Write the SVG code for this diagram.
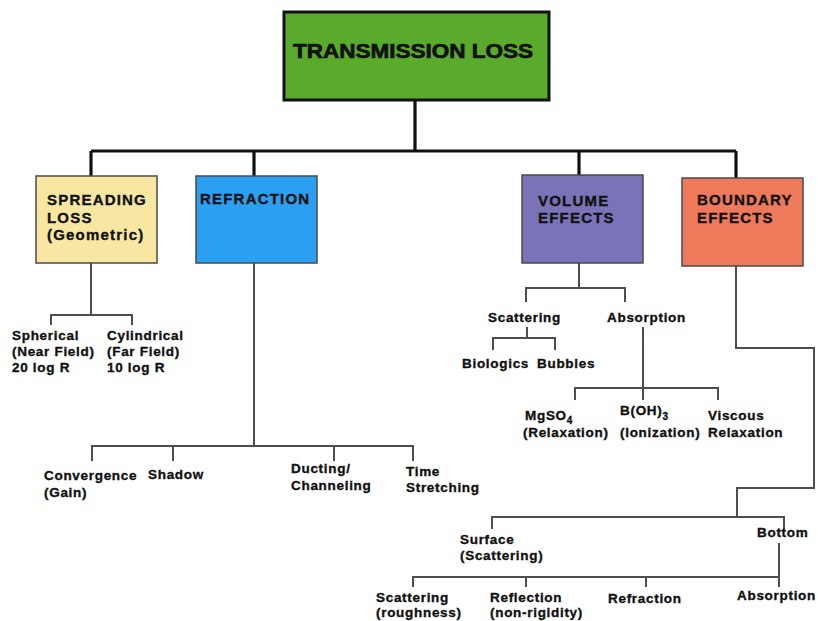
<svg xmlns="http://www.w3.org/2000/svg" width="818" height="621" viewBox="0 0 818 621">
  <style>
    .box { stroke: #4a4a4a; stroke-width: 1.5; }
    .main { fill: none; stroke: #111; stroke-width: 3.2; }
    .sub { fill: none; stroke: #4d4d4d; stroke-width: 2; }
    text { font-family: "Liberation Sans", Arial, sans-serif; font-weight: bold; fill: #111; stroke: #111; stroke-width: 0.35px; }
    .hd { font-size: 15px; letter-spacing: 1.2px; }
    .lb { font-size: 13.5px; letter-spacing: 0.7px; }
    .sb { font-size: 10px; }
    .title { stroke-width: 0.7px; }
  </style>
  <rect width="818" height="621" fill="#fff"/>

  <g id="connectors">
    <!-- main tree -->
    <path class="main" d="M415 100 V151 M91 151 H736 M91 151 V176 M254 151 V176 M579 151 V175 M736 151 V178"/>
    <!-- spreading loss -->
    <path class="sub" d="M91 263 V315 M51 325 V315 H132 V325"/>
    <!-- refraction -->
    <path class="sub" d="M254 263 V446 M92 461 V446 H413 V461 M173 446 V461 M334 446 V461"/>
    <!-- volume effects -->
    <path class="sub" d="M579 263 V288 M526 302 V288 H625 V302"/>
    <path class="sub" d="M527 327 V338 M493 350 V338 H555 V350"/>
    <path class="sub" d="M643 327 V400 M575 400 V388 H718 V400"/>
    <!-- boundary effects -->
    <path class="sub" d="M736 266 V348 H814 V488 H737 V517 M492 529 V517 H784 V529"/>
    <path class="sub" d="M779 543 V587 M413 587 V577 H779 M526 577 V587 M646 577 V587"/>
  </g>

  <g id="transmission-loss">
    <rect x="284" y="12" width="265" height="88" fill="#5aab2b" stroke="#111" stroke-width="3"/>
    <text class="title" x="293" y="58" font-size="20" textLength="240" lengthAdjust="spacingAndGlyphs">TRANSMISSION LOSS</text>
  </g>

  <g id="spreading-loss">
    <rect class="box" x="36" y="176" width="121" height="87" fill="#f8e7a2"/>
    <text class="hd" x="47" y="205">SPREADING</text>
    <text class="hd" x="47" y="223">LOSS</text>
    <text class="hd" x="47" y="240">(Geometric)</text>
  </g>

  <g id="refraction">
    <rect class="box" x="196" y="176" width="121" height="87" fill="#2b9ff0"/>
    <text class="hd" x="200" y="204">REFRACTION</text>
  </g>

  <g id="volume-effects">
    <rect class="box" x="522" y="175" width="121" height="88" fill="#7b73b8"/>
    <text class="hd" x="538" y="206">VOLUME</text>
    <text class="hd" x="538" y="223">EFFECTS</text>
  </g>

  <g id="boundary-effects">
    <rect class="box" x="682" y="178" width="121" height="88" fill="#ee7a5b"/>
    <text class="hd" x="697" y="205">BOUNDARY</text>
    <text class="hd" x="697" y="223">EFFECTS</text>
  </g>

  <g id="spherical">
    <text class="lb" x="12" y="340">Spherical</text>
    <text class="lb" x="12" y="356">(Near Field)</text>
    <text class="lb" x="12" y="372">20 log R</text>
  </g>
  <g id="cylindrical">
    <text class="lb" x="107" y="340">Cylindrical</text>
    <text class="lb" x="107" y="356">(Far Field)</text>
    <text class="lb" x="107" y="372">10 log R</text>
  </g>

  <g id="convergence">
    <text class="lb" x="44" y="480">Convergence</text>
    <text class="lb" x="44" y="497">(Gain)</text>
  </g>
  <g id="shadow">
    <text class="lb" x="148" y="479">Shadow</text>
  </g>
  <g id="ducting">
    <text class="lb" x="291" y="473">Ducting/</text>
    <text class="lb" x="291" y="490">Channeling</text>
  </g>
  <g id="time-stretching">
    <text class="lb" x="406" y="476">Time</text>
    <text class="lb" x="406" y="492">Stretching</text>
  </g>

  <g id="scattering">
    <text class="lb" x="488" y="322">Scattering</text>
  </g>
  <g id="absorption">
    <text class="lb" x="607" y="322">Absorption</text>
  </g>
  <g id="biologics">
    <text class="lb" x="462" y="368">Biologics</text>
  </g>
  <g id="bubbles">
    <text class="lb" x="537" y="368">Bubbles</text>
  </g>
  <g id="mgso4">
    <text class="lb" x="525" y="420">MgSO<tspan class="sb" dy="4">4</tspan></text>
    <text class="lb" x="523" y="437">(Relaxation)</text>
  </g>
  <g id="boh3">
    <text class="lb" x="620" y="415">B(OH)<tspan class="sb" dy="5">3</tspan></text>
    <text class="lb" x="620" y="437">(Ionization)</text>
  </g>
  <g id="viscous">
    <text class="lb" x="708" y="420">Viscous</text>
    <text class="lb" x="708" y="437">Relaxation</text>
  </g>

  <g id="surface">
    <text class="lb" x="460" y="544">Surface</text>
    <text class="lb" x="460" y="560">(Scattering)</text>
  </g>
  <g id="bottom">
    <text class="lb" x="757" y="537">Bottom</text>
  </g>
  <g id="bottom-scattering">
    <text class="lb" x="376" y="602">Scattering</text>
    <text class="lb" x="376" y="617">(roughness)</text>
  </g>
  <g id="bottom-reflection">
    <text class="lb" x="490" y="602">Reflection</text>
    <text class="lb" x="490" y="617">(non-rigidity)</text>
  </g>
  <g id="bottom-refraction">
    <text class="lb" x="608" y="603">Refraction</text>
  </g>
  <g id="bottom-absorption">
    <text class="lb" x="737" y="600">Absorption</text>
  </g>
</svg>
